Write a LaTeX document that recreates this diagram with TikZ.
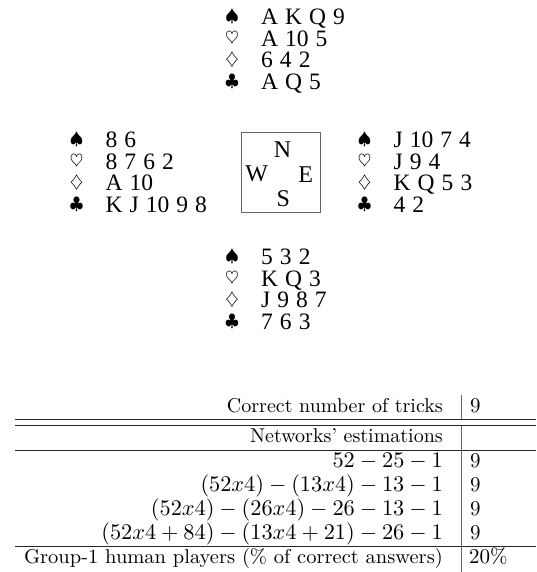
\documentclass[tikz,border=0pt]{standalone}
\usepackage{fontspec}
\newfontfamily\cardfont{Liberation Serif}[WordSpace=1.2]
\newcommand\tabtxt[1]{\scalebox{2.0}{\fontsize{10}{12}\selectfont #1}}
\newcommand\tabwide[1]{\scalebox{2.05}[2.0]{\fontsize{10}{12}\selectfont #1}}
\newcommand\tabval[1]{\scalebox{2.1}{\fontsize{10}{12}\selectfont #1}}
\newcommand\tabmath[1]{\scalebox{2.23}{\fontsize{10}{12}\selectfont $#1$}}
\begin{document}
\begin{tikzpicture}[x=1pt,y=-1pt,
  suit/.style={anchor=center, inner sep=0pt, font=\fontsize{17.28}{18}\selectfont},
  cards/.style={anchor=west, inner sep=0pt, font=\cardfont\fontsize{23.5}{26}\selectfont, text height=15.6pt, text depth=0pt},
  compass/.style={inner sep=0pt, font=\cardfont\fontsize{24}{24}\selectfont},
  tab/.style={anchor=base east, inner sep=0pt},
  tabr/.style={anchor=base west, inner sep=0pt},
  rule/.style={line width=0.9pt, black!85},
  vrule/.style={line width=0.9pt, black!60}]
\useasboundingbox (0,0) rectangle (536,572);
% hands
\foreach \nm/\x/\y/\s/\h/\d/\c in {
  N/232/16.5/{A K Q 9}/{A 10 5}/{6 4 2}/{A Q 5},
  W/76.5/139.5/{8 6}/{8 7 6 2}/{A 10}/{K J 10 9 8},
  E/364.5/139.5/{J 10 7 4}/{J 9 4}/{K Q 5 3}/{4 2},
  S/232/256.5/{5 3 2}/{K Q 3}/{J 9 8 7}/{7 6 3}}{
  \node[suit] (\nm-sp) at (\x,\y) {$\spadesuit$};
  \node[suit] (\nm-he) at (\x,{\y+21.8}) {$\heartsuit$};
  \node[suit] (\nm-di) at (\x,{\y+43.6}) {$\diamondsuit$};
  \node[suit] (\nm-cl) at (\x,{\y+65.4}) {$\clubsuit$};
  \node[cards] (\nm-spt) at ({\x+29},\y) {\s};
  \node[cards] (\nm-het) at ({\x+29},{\y+21.8}) {\h};
  \node[cards] (\nm-dit) at ({\x+29},{\y+43.6}) {\d};
  \node[cards] (\nm-clt) at ({\x+29},{\y+65.4}) {\c};
}
% compass
\node[draw=black!60, line width=0.8pt, minimum width=79pt, minimum height=80pt, inner sep=0pt] (box) at (280.5,172) {};
\node[compass] (cn) at (282.5,150) {N};
\node[compass] (cw) at (256.7,173.5) {W};
\node[compass] (ce) at (305.7,175) {E};
\node[compass] (cs) at (283.3,198.5) {S};
% table
\node[tab] (r1) at (443,412) {\tabtxt{Correct number of tricks}};
\node[tabr] (v1) at (470,412) {\tabval{9}};
\node[tab] (r2) at (443,442.5) {\tabtxt{Networks' estimations}};
\node[tab] (r3) at (443,467.5) {\tabmath{52-25-1}};
\node[tabr] (v3) at (470,467.5) {\tabval{9}};
\node[tab] (r4) at (443,491.5) {\tabmath{(52x4)-(13x4)-13-1}};
\node[tabr] (v4) at (470,491.5) {\tabval{9}};
\node[tab] (r5) at (443,515.5) {\tabmath{(52x4)-(26x4)-26-13-1}};
\node[tabr] (v5) at (470,515.5) {\tabval{9}};
\node[tab] (r6) at (443,539.5) {\tabmath{(52x4+84)-(13x4+21)-26-1}};
\node[tabr] (v6) at (470,539.5) {\tabval{9}};
\node[tab] (r7) at (443,563.5) {\tabwide{Group-1 human players (\% of correct answers)}};
\node[tabr] (v7) at (469,563.5) {\tabval{20\%}};
\draw[rule] (15,419.3) -- (536,419.3);
\draw[rule] (15,425.7) -- (536,425.7);
\draw[rule] (15,450.7) -- (536,450.7);
\draw[rule] (15,546.7) -- (536,546.7);
\draw[vrule] (461,395.3) -- (461,419.3);
\draw[vrule] (461,425.7) -- (461,572);
\end{tikzpicture}
\end{document}
